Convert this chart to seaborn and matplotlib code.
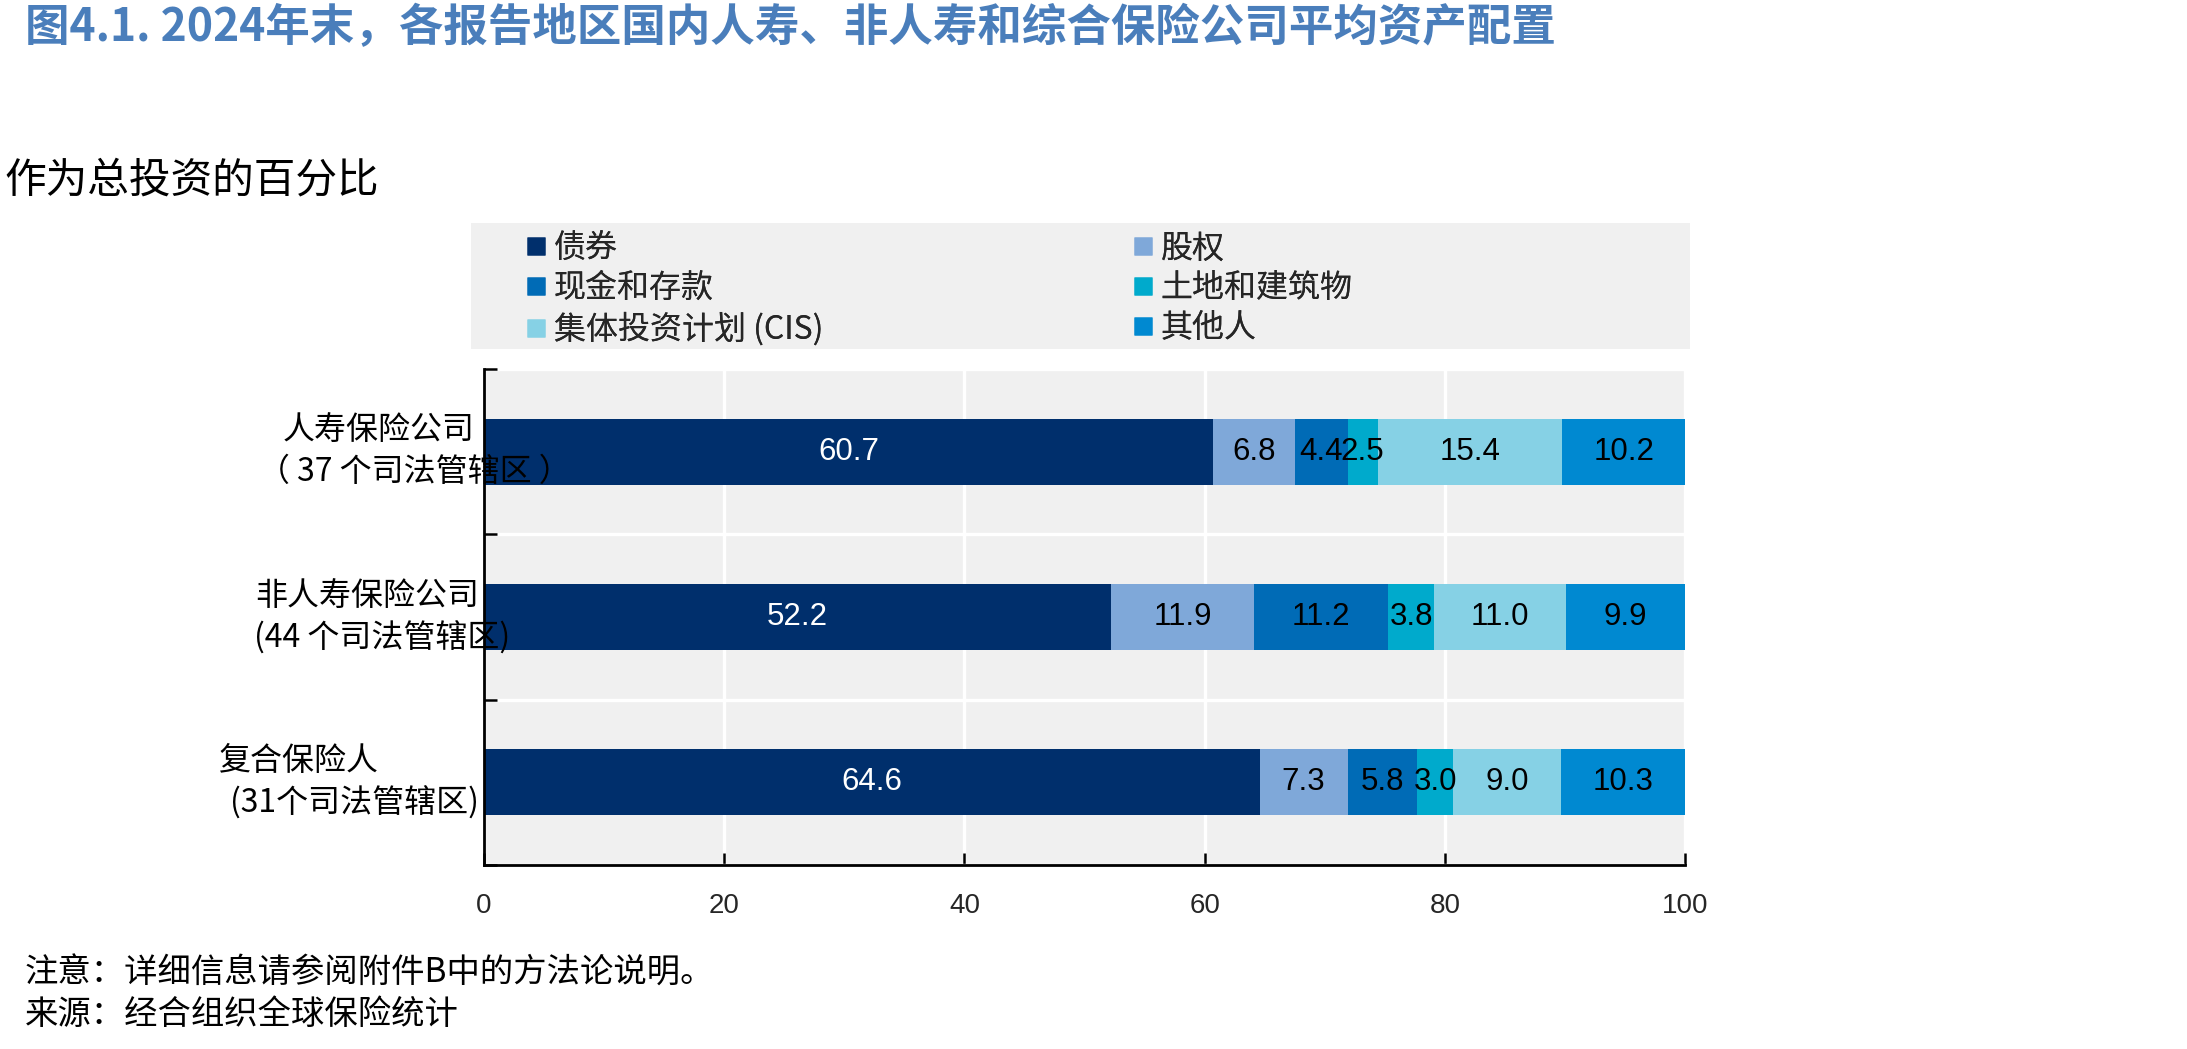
import matplotlib
matplotlib.use("Agg")
import matplotlib.pyplot as plt
import matplotlib.transforms as mtransforms
from matplotlib import font_manager
from matplotlib.lines import Line2D
from matplotlib.patches import Rectangle
import seaborn as sns
import pandas as pd
import numpy as np

# ---------------- data ----------------
categories = ["人寿保险公司", "非人寿保险公司", "复合保险人"]
category_sub = ["（ 37 个司法管辖区 ）", "(44 个司法管辖区)", "(31个司法管辖区)"]
series = ["债券", "股权", "现金和存款", "土地和建筑物", "集体投资计划 (CIS)", "其他人"]
bonds = [60.7, 52.2, 64.6]
equity = [6.8, 11.9, 7.3]
cash = [4.4, 11.2, 5.8]
land = [2.5, 3.8, 3.0]
cis = [15.4, 11.0, 9.0]
other = [10.2, 9.9, 10.3]
x_ticks = [0, 20, 40, 60, 80, 100]

title = "图4.1. 2024年末，各报告地区国内人寿、非人寿和综合保险公司平均资产配置"
subtitle = "作为总投资的百分比"
note = "注意：详细信息请参阅附件B中的方法论说明。"
source = "来源：经合组织全球保险统计"

# ---------------- style ----------------
colors = ["#002F6C", "#7FA8D9", "#006BB6", "#00AACC", "#86D1E5", "#0089D1"]
label_colors = ["white", "black", "black", "black", "black", "black"]
bg_gray = "#F0F0F0"
title_color = "#4A7EBB"

sns.set_theme(style="white")
plt.rcParams["font.family"] = ["Noto Sans CJK SC", "DejaVu Sans"]

avail = {f.name for f in font_manager.fontManager.ttflist}
if "Liberation Sans Narrow" in avail:
    num_family = ["Liberation Sans Narrow", "Noto Sans CJK SC"]
    val_size, tick_size = 25, 23
else:
    num_family = ["Liberation Sans", "Noto Sans CJK SC"]
    val_size, tick_size = 22.5, 20

W, H = 2187, 1049
fig = plt.figure(figsize=(W / 100, H / 100), dpi=100)
fig.patch.set_facecolor("white")

ax_l, ax_r, ax_t, ax_b = 484, 1685, 369, 865
ax = fig.add_axes([ax_l / W, 1 - ax_b / H, (ax_r - ax_l) / W, (ax_b - ax_t) / H])
ax.set_facecolor(bg_gray)

values = [bonds, equity, cash, land, cis, other]
cum = np.cumsum(np.array(values), axis=0)

# draw stacked bars: longest cumulative first, then overlay shorter ones
for k in reversed(range(len(series))):
    df = pd.DataFrame({"cat": categories, "cum": cum[k]})
    sns.barplot(data=df, x="cum", y="cat", orient="h", color=colors[k],
                saturation=1, width=0.4, errorbar=None, linewidth=0, ax=ax)

# value labels
for k in range(len(series)):
    for i in range(len(categories)):
        v = values[k][i]
        ax.text(cum[k][i] - v / 2, i, f"{v:.1f}", ha="center", va="center",
                color=label_colors[k], fontsize=val_size, family=num_family)

ax.set_xlim(0, 100)
ax.set_ylim(2.5, -0.5)
ax.set_xlabel("")
ax.set_ylabel("")
ax.set_xticks(x_ticks)
ax.set_xticklabels([str(t) for t in x_ticks], fontsize=tick_size, family=num_family)
ax.set_yticks([-0.5, 0.5, 1.5, 2.5])
ax.set_yticklabels([])
ax.tick_params(axis="x", direction="in", length=9, width=1.8, color="black", pad=20,
               bottom=True)
ax.tick_params(axis="y", direction="in", length=9, width=1.8, color="black", left=True)
ax.grid(True, color="white", linewidth=2.4)
ax.set_axisbelow(True)
for s in ["top", "right"]:
    ax.spines[s].set_visible(False)
for s in ["left", "bottom"]:
    ax.spines[s].set_visible(True)
    ax.spines[s].set_color("black")
    ax.spines[s].set_linewidth(2.0)

# category labels (two lines each)
trans = mtransforms.blended_transform_factory(fig.transFigure, ax.transData)
line1_x = [283, 255, 219]
line2_x = [258, 254, 230]
for i in range(len(categories)):
    ax.text(line1_x[i] / W, i - 0.13, categories[i], transform=trans, ha="left",
            va="center", fontsize=23, color="black", clip_on=False)
    ax.text(line2_x[i] / W, i + 0.125, category_sub[i], transform=trans, ha="left",
            va="center", fontsize=23, color="black", clip_on=False)

# legend background and two columns
lx0, lx1, ly0, ly1 = 471, 1690, 223, 349
fig.patches.append(Rectangle((lx0 / W, 1 - ly1 / H), (lx1 - lx0) / W, (ly1 - ly0) / H,
                             transform=fig.transFigure, facecolor=bg_gray,
                             edgecolor="none", zorder=0))
handles = [Line2D([], [], marker="s", linestyle="none", markersize=12.5,
                  markerfacecolor=c, markeredgecolor="none") for c in colors]
col1 = [0, 2, 4]
col2 = [1, 3, 5]
for idx, xpos in [(col1, 520), (col2, 1127)]:
    leg = fig.legend([handles[j] for j in idx], [series[j] for j in idx],
                     loc="upper left", bbox_to_anchor=(xpos / W, 1 - 226 / H),
                     frameon=False, fontsize=23, handlelength=0.6,
                     handletextpad=0.25, labelspacing=0.25, borderpad=0.2,
                     borderaxespad=0)
    fig.add_artist(leg)

# titles and notes
fig.text(25 / W, 1 - 28 / H, title, ha="left", va="center", fontsize=32,
         fontweight="bold", color=title_color)
fig.text(4 / W, 1 - 181 / H, subtitle, ha="left", va="center", fontsize=30,
         color="black")
fig.text(25 / W, 1 - 973 / H, note, ha="left", va="center", fontsize=24, color="black")
fig.text(25 / W, 1 - 1014 / H, source, ha="left", va="center", fontsize=24, color="black")

fig.savefig("out.png", dpi=100)
